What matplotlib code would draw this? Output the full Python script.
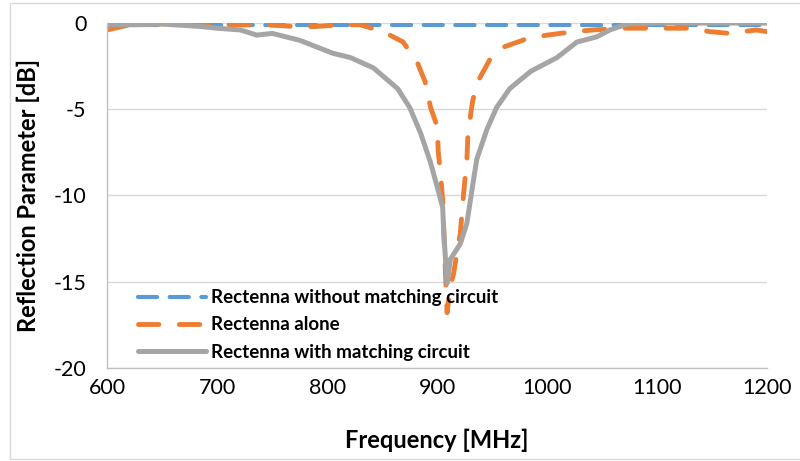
import matplotlib.pyplot as plt
from matplotlib.patches import Rectangle

plt.rcParams['font.family'] = ['Lato', 'DejaVu Sans']
plt.rcParams['axes.unicode_minus'] = False

# Rectenna without matching circuit
blue_f = [600, 700, 800, 900, 1000, 1100, 1200]
blue_db = [-0.1, -0.1, -0.1, -0.1, -0.1, -0.1, -0.1]

# Rectenna alone
or_f = [600, 624, 650, 700, 720, 745, 770, 790, 812, 830, 851, 869, 882, 889,
        894, 900, 901, 903, 905, 907, 909, 912, 915, 918, 921, 924, 927, 928,
        932, 936, 948, 960, 982, 1000, 1024, 1042, 1070, 1090, 1110, 1130,
        1148, 1166, 1190, 1200]
or_db = [-0.4, -0.05, -0.05, -0.1, -0.1, -0.1, -0.2, -0.2, -0.1, -0.1, -0.5,
         -1.1, -2.3, -3.4, -4.9, -6.0, -7.5, -8.7, -10.3, -13.7, -16.8, -15.3,
         -14.5, -13.3, -12.2, -9.9, -7.9, -6.4, -4.6, -3.5, -2.1, -1.4, -0.9,
         -0.7, -0.5, -0.4, -0.3, -0.3, -0.3, -0.3, -0.5, -0.6, -0.4, -0.5]

# Rectenna with matching circuit
gr_f = [600, 625, 650, 685, 700, 721, 736, 750, 775, 805, 821, 842, 864, 875,
        885, 894, 900, 905, 906, 909, 912, 921, 927, 933, 936, 945, 954, 966,
        985, 1000, 1009, 1027, 1045, 1057, 1073, 1100, 1150, 1200]
gr_db = [-0.1, -0.1, -0.05, -0.2, -0.3, -0.4, -0.7, -0.6, -1.0, -1.75, -2.0,
         -2.6, -3.8, -4.9, -6.4, -8.1, -9.5, -10.7, -12.2, -15.1, -13.7, -12.8,
         -11.6, -9.1, -7.9, -6.2, -4.9, -3.8, -2.8, -2.3, -2.0, -1.1, -0.8,
         -0.4, -0.05, 0, 0, 0]

xticks = [600, 700, 800, 900, 1000, 1100, 1200]
yticks = [0, -5, -10, -15, -20]

fig = plt.figure(figsize=(8, 4.61), dpi=100)
ax = fig.add_axes([0.134, 0.202, 0.825, 0.748])

fig.patches.append(Rectangle((10/800, 1-459/461), 1.0, 456/461, transform=fig.transFigure,
                             fill=False, edgecolor='#D9D9D9', lw=1))

l1, = ax.plot(blue_f, blue_db, color='#5B9BD5', lw=3.0, label='Rectenna without matching circuit',
              dash_capstyle='round')
l1.set_dashes((4.6, 3.0))
l2, = ax.plot(or_f, or_db, color='#ED7D31', lw=3.5, label='Rectenna alone',
              dash_capstyle='round')
l2.set_dashes((4.2, 4.2))
ax.plot(gr_f, gr_db, color='#A5A5A5', lw=3.6, label='Rectenna with matching circuit',
        solid_capstyle='round', solid_joinstyle='round')

ax.set_xlim(600, 1200)
ax.set_ylim(-20, 0)
ax.set_xticks(xticks)
ax.set_yticks(yticks)
ax.tick_params(length=0, labelsize=15.5)
ax.tick_params(axis='y', pad=15)
ax.tick_params(axis='x', pad=7)
ax.grid(axis='y', color='#D9D9D9', lw=1)
ax.set_axisbelow(True)
for s in ['top', 'right']:
    ax.spines[s].set_visible(False)
for s in ['left', 'bottom']:
    ax.spines[s].set_color('#BFBFBF')
    ax.spines[s].set_linewidth(1)

ax.set_xlabel('Frequency [MHz]', fontsize=17, fontweight='bold', labelpad=22)
ax.set_ylabel('Reflection Parameter [dB]', fontsize=17, fontweight='bold', labelpad=10)

ax.legend(loc='upper left', bbox_to_anchor=(0.047, 0.228), frameon=False, borderaxespad=0,
          borderpad=0, handlelength=3.6, handletextpad=0.3, labelspacing=0.54,
          prop={'size': 13.5, 'weight': 'bold'})

fig.savefig('out.png', dpi=100)
